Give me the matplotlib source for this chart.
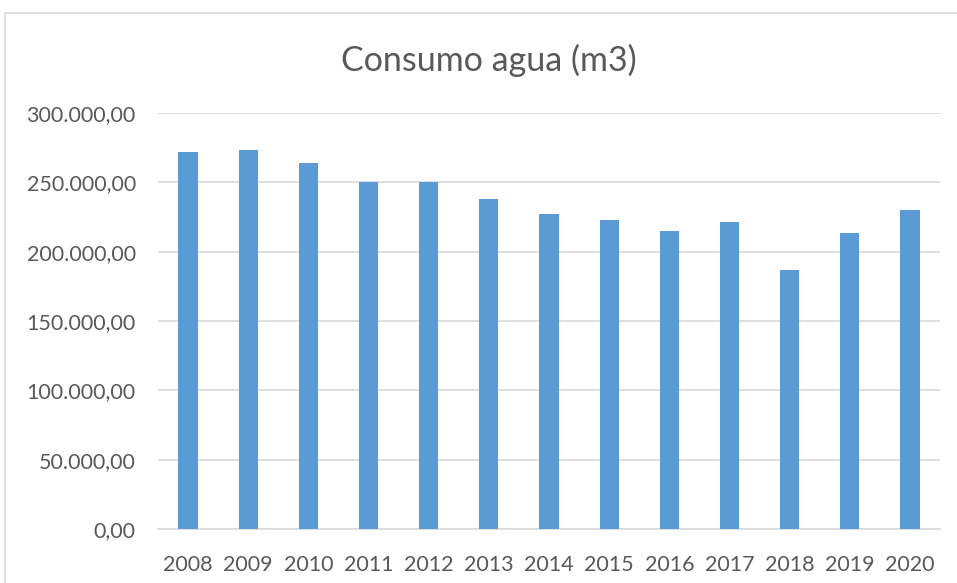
import matplotlib
matplotlib.use("Agg")
import matplotlib.pyplot as plt
from matplotlib.patches import Rectangle
from matplotlib.ticker import FuncFormatter

years = ["2008", "2009", "2010", "2011", "2012", "2013", "2014",
         "2015", "2016", "2017", "2018", "2019", "2020"]
consumo = [271700, 273400, 264000, 250300, 250200, 238200, 227200,
           222600, 215100, 221400, 186500, 213500, 229800]
yticks = [0, 50000, 100000, 150000, 200000, 250000, 300000]

plt.rcParams['font.family'] = ['Lato', 'DejaVu Sans']
W, H = 957, 583
fig = plt.figure(figsize=(W / 100, H / 100), dpi=100)

# chart border
fig.patches.append(Rectangle((5 / W, -0.05), 1.05, 1 - 13 / H + 0.05,
                             transform=fig.transFigure, fill=False,
                             edgecolor="#D9D9D9", linewidth=1.2))

left, right, top, bottom = 158, 940, 113, 529
ax = fig.add_axes([left / W, 1 - bottom / H, (right - left) / W, (bottom - top) / H])

x = range(len(years))
ax.bar(x, consumo, width=0.32, color="#5B9BD5", zorder=3)
ax.set_xlim(-0.5, len(years) - 0.5)
ax.set_ylim(0, 300000)
ax.set_yticks(yticks)

def fmt(v, pos):
    s = f"{int(v):,}".replace(",", ".")
    return s + ",00"

ax.yaxis.set_major_formatter(FuncFormatter(fmt))
ax.set_xticks(list(x))
ax.set_xticklabels(years)
ax.grid(axis="y", color="#D9D9D9", linewidth=1.2, zorder=0)
for s in ["top", "right", "left"]:
    ax.spines[s].set_visible(False)
ax.spines["bottom"].set_color("#D9D9D9")
ax.spines["bottom"].set_linewidth(1.2)
ax.tick_params(axis="both", length=0, colors="#595959", labelsize=15.5)
ax.tick_params(axis="y", pad=16)
ax.tick_params(axis="x", pad=19)

fig.text((338 + 640) / 2 / W, 1 - 60 / H, "Consumo agua (m3)", ha="center",
         va="center", fontsize=24.5, color="#595959")

fig.savefig("out.png", dpi=100)
